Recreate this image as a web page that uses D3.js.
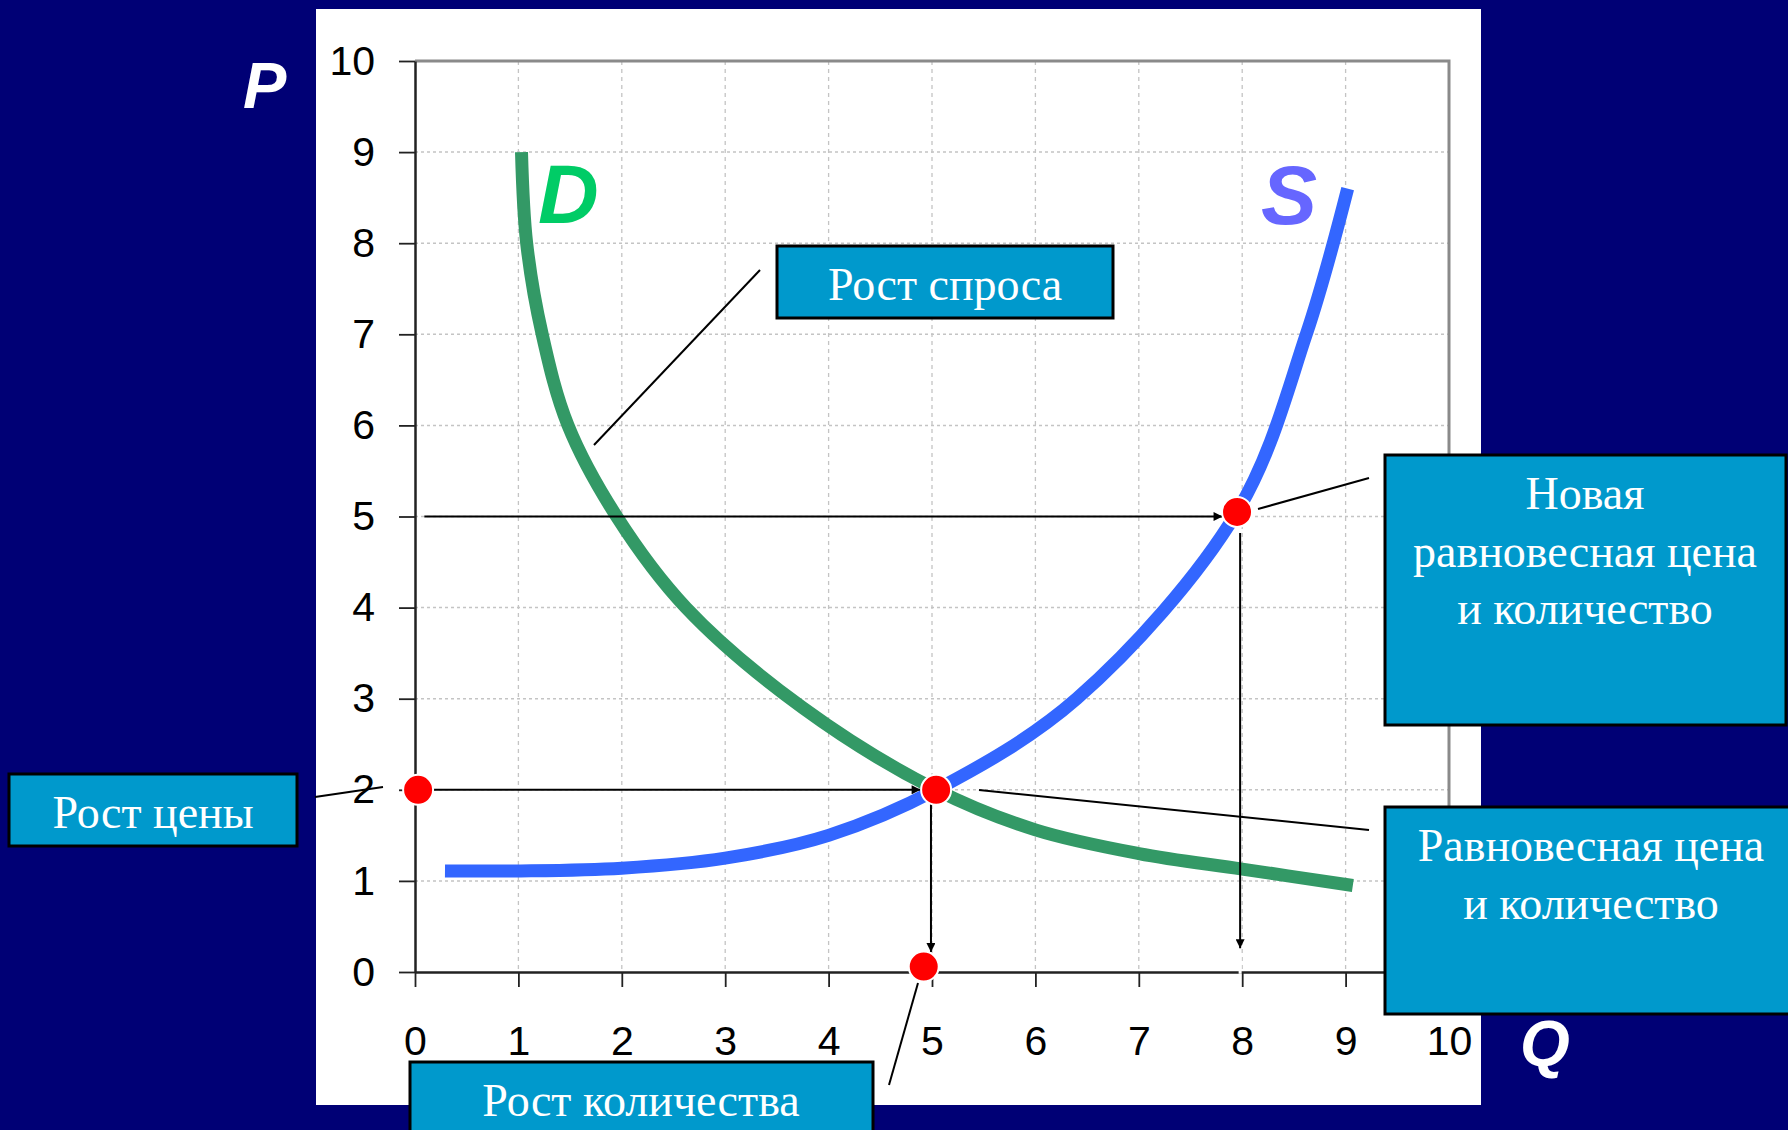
<!DOCTYPE html>
<meta charset="utf-8">
<style>
  html, body { margin: 0; padding: 0; background: #000075; }
  #chart { width: 1788px; height: 1130px; }
</style>

<script src="https://d3js.org/d3.v7.min.js"></script>

<div id="chart"></div>

<script>
// ---- data ----
// demand curve D
var demandQ = [1.03, 1.08, 1.23, 1.48, 1.95, 2.62, 3.75, 5.04, 6.0, 7.0, 8.0, 9.07];
var demandP = [9.0, 8.0, 7.0, 6.0, 5.0, 4.0, 2.9, 2.0, 1.56, 1.3, 1.13, 0.95];
// supply curve S
var supplyQ = [0.29, 1.0, 2.0, 3.0, 4.0, 5.04, 6.4, 7.95, 8.62, 9.02];
var supplyP = [1.11, 1.11, 1.14, 1.25, 1.5, 2.0, 3.0, 5.05, 7.0, 8.6];

// red points: price rise, old equilibrium, new equilibrium, quantity rise
var dotQ = [0.03, 5.04, 7.95, 4.92];
var dotP = [2.0, 2.0, 5.05, 0.06];

// guide arrows [q, p] start and end
var arrowFrom = [[0.09, 5.0], [0.17, 2.0], [4.99, 1.89], [7.98, 4.82]];
var arrowTo   = [[7.81, 5.0], [4.89, 2.0], [4.99, 0.22], [7.98, 0.26]];

var xTicks = [0, 1, 2, 3, 4, 5, 6, 7, 8, 9, 10];
var yTicks = [0, 1, 2, 3, 4, 5, 6, 7, 8, 9, 10];

var calloutTexts = [
  ["Рост спроса"],
  ["Рост цены"],
  ["Рост количества"],
  ["Новая", "равновесная цена", "и количество"],
  ["Равновесная цена", "и количество"]
];

// ---- layout ----
var W = 1788, H = 1130;
var plot = {left: 415, right: 1449, top: 61, bottom: 972};

var boxes = [
  {x: 777, y: 246, w: 336, h: 72, cx: 945},
  {x: 9, y: 774, w: 288, h: 72, cx: 153},
  {x: 410, y: 1062, w: 463, h: 90, cx: 641},
  {x: 1385, y: 455, w: 401, h: 270, cx: 1585},
  {x: 1385, y: 807, w: 406, h: 207, cx: 1591}
];
var connectors = [
  [760, 270, 594, 445],
  [315, 797, 383, 787],
  [889, 1085, 918, 983],
  [1369, 478, 1258, 509],
  [979, 790, 1369, 830]
];

var svg = d3.select("#chart").append("svg")
  .attr("width", W)
  .attr("height", H);

svg.append("rect").attr("width", W).attr("height", H).attr("fill", "#000075");
// white slide panel
svg.append("rect")
  .attr("x", 316).attr("y", 9)
  .attr("width", 1165).attr("height", 1096)
  .attr("fill", "#fff");

var x = d3.scaleLinear().domain([0, 10]).range([plot.left, plot.right]);
var y = d3.scaleLinear().domain([0, 10]).range([plot.bottom, plot.top]);

svg.append("defs").append("marker")
  .attr("id", "arrowhead")
  .attr("viewBox", "0 -5 10 10")
  .attr("refX", 10).attr("refY", 0)
  .attr("markerUnits", "userSpaceOnUse")
  .attr("markerWidth", 13).attr("markerHeight", 9)
  .attr("orient", "auto")
  .append("path")
  .attr("d", "M0,-5L10,0L0,5Z")
  .attr("fill", "#000");

// grid
var grid = svg.append("g");
grid.selectAll(".vg").data(xTicks.slice(1, 10)).enter().append("line")
  .attr("x1", d => x(d)).attr("x2", d => x(d))
  .attr("y1", y(10)).attr("y2", y(0))
  .attr("stroke", "#c4c4c4").attr("stroke-width", 1.3)
  .attr("stroke-dasharray", "4,4");
grid.selectAll(".hg").data(yTicks.slice(1, 10)).enter().append("line")
  .attr("x1", x(0)).attr("x2", x(10))
  .attr("y1", d => y(d)).attr("y2", d => y(d))
  .attr("stroke", "#c4c4c4").attr("stroke-width", 1.5)
  .attr("stroke-dasharray", "3,3");

// top and right frame
svg.append("path")
  .attr("d", "M" + x(0) + "," + y(10) + "H" + x(10) + "V" + y(0))
  .attr("fill", "none")
  .attr("stroke", "#8a8a8a")
  .attr("stroke-width", 3);

// axes
var yAxis = svg.append("g")
  .attr("transform", "translate(" + x(0) + ",0)")
  .call(d3.axisLeft(y).tickValues(yTicks).tickFormat(d3.format("d"))
    .tickSize(16).tickSizeOuter(0).tickPadding(24));
var xAxis = svg.append("g")
  .attr("transform", "translate(0," + y(0) + ")")
  .call(d3.axisBottom(x).tickValues(xTicks).tickFormat(d3.format("d"))
    .tickSize(15).tickSizeOuter(0).tickPadding(39));
[xAxis, yAxis].forEach(function (a) {
  a.select(".domain").attr("stroke", "#222").attr("stroke-width", 2.5);
  a.selectAll(".tick line").attr("stroke", "#222").attr("stroke-width", 1.8);
  a.selectAll(".tick text")
    .attr("fill", "#000")
    .style("font-family", "'Liberation Sans', Arial, sans-serif")
    .style("font-size", "41px");
});

// curves
var line = d3.line()
  .x(d => x(d[0])).y(d => y(d[1]))
  .curve(d3.curveCatmullRom.alpha(0.5));

var demand = demandQ.map((q, i) => [q, demandP[i]]);
var supply = supplyQ.map((q, i) => [q, supplyP[i]]);

svg.append("path")
  .datum(demand)
  .attr("d", line)
  .attr("fill", "none")
  .attr("stroke", "#339966")
  .attr("stroke-width", 13);

svg.append("path")
  .datum(supply)
  .attr("d", line)
  .attr("fill", "none")
  .attr("stroke", "#3366ff")
  .attr("stroke-width", 13);

// guide arrows
svg.selectAll(".guide").data(arrowFrom).enter().append("line")
  .attr("x1", d => x(d[0])).attr("y1", d => y(d[1]))
  .attr("x2", (d, i) => x(arrowTo[i][0])).attr("y2", (d, i) => y(arrowTo[i][1]))
  .attr("stroke", "#000")
  .attr("stroke-width", 2)
  .attr("marker-end", "url(#arrowhead)");

// little white mark on the axis under the second arrow
svg.append("line")
  .attr("x1", x(7.98)).attr("x2", x(7.98))
  .attr("y1", y(0.2)).attr("y2", y(-0.02))
  .attr("stroke", "#fff").attr("stroke-width", 3);

// connectors
svg.selectAll(".conn").data(connectors).enter().append("line")
  .attr("x1", d => d[0]).attr("y1", d => d[1])
  .attr("x2", d => d[2]).attr("y2", d => d[3])
  .attr("stroke", "#000")
  .attr("stroke-width", 2);

// red points
svg.selectAll(".dot").data(dotQ).enter().append("circle")
  .attr("cx", d => x(d))
  .attr("cy", (d, i) => y(dotP[i]))
  .attr("r", 15)
  .attr("fill", "#ff0000")
  .attr("stroke", "#fff")
  .attr("stroke-width", 2);

// callout boxes
var cg = svg.selectAll(".callout").data(boxes).enter().append("g");
cg.append("rect")
  .attr("x", d => d.x).attr("y", d => d.y)
  .attr("width", d => d.w).attr("height", d => d.h)
  .attr("fill", "#0099cc")
  .attr("stroke", "#000")
  .attr("stroke-width", 3);
cg.each(function (d, i) {
  d3.select(this).selectAll("text").data(calloutTexts[i]).enter().append("text")
    .attr("x", d.cx)
    .attr("y", (t, j) => d.y + 54 + j * 57.5)
    .attr("text-anchor", "middle")
    .attr("fill", "#fff")
    .style("font-family", "'Liberation Serif', 'Times New Roman', serif")
    .style("font-size", "46px")
    .text(t => t);
});

// curve and axis letters
var letters = svg.append("g")
  .style("font-family", "'Liberation Sans', Arial, sans-serif")
  .style("font-weight", "bold")
  .style("font-style", "italic");
letters.append("text").attr("x", 538).attr("y", 223)
  .attr("fill", "#00cc66").style("font-size", "84px").text("D");
letters.append("text").attr("x", 1261).attr("y", 224)
  .attr("fill", "#6666ff").style("font-size", "84px").text("S");
letters.append("text").attr("x", 243).attr("y", 108)
  .attr("fill", "#fff").style("font-size", "65px").text("P");
letters.append("text").attr("x", 1520).attr("y", 1066)
  .attr("fill", "#fff").style("font-size", "64px").text("Q");
</script>
